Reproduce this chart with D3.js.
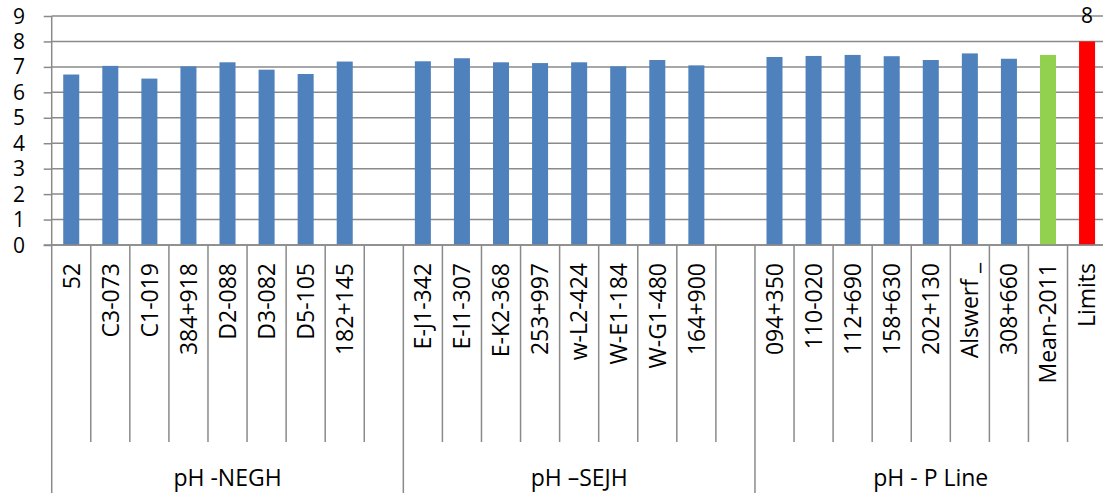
<!DOCTYPE html>
<html>
<head>
<meta charset="utf-8">
<script src="https://cdn.jsdelivr.net/npm/d3@7"></script>
<style>
  html, body { margin: 0; padding: 0; background: #fff; }
  svg { display: block; font-family: "Open Sans", sans-serif; }
</style>
</head>
<body>
<svg id="chart" width="1103" height="495"></svg>
<script>
// Sampling points and pH readings, one array pair per line
const groupNames = ["pH -NEGH", "pH \u2013SEJH", "pH - P Line"];

const neghLabels = ["52", "C3-073", "C1-019", "384+918", "D2-088", "D3-082", "D5-105", "182+145", ""];
const neghValues = [6.70, 7.04, 6.54, 7.02, 7.18, 6.89, 6.72, 7.21, null];

const sejhLabels = ["E-J1-342", "E-I1-307", "E-K2-368", "253+997", "w-L2-424", "W-E1-184", "W-G1-480", "164+900", ""];
const sejhValues = [7.22, 7.34, 7.18, 7.15, 7.18, 7.02, 7.27, 7.06, null];

const pLineLabels = ["094+350", "110-020", "112+690", "158+630", "202+130", "Alswerf _", "308+660", "Mean-2011", "Limits"];
const pLineValues = [7.39, 7.43, 7.47, 7.42, 7.27, 7.53, 7.32, 7.47, 8];

const yTicks = [0, 1, 2, 3, 4, 5, 6, 7, 8, 9];

const colors = { site: "#4F81BD", mean: "#92D050", limit: "#FF0000" };

(function () {
  // Flatten groups into one row of slots
  const groups = [
    { name: groupNames[0], labels: neghLabels, values: neghValues },
    { name: groupNames[1], labels: sejhLabels, values: sejhValues },
    { name: groupNames[2], labels: pLineLabels, values: pLineValues }
  ];
  const slots = [];
  groups.forEach((g, gi) => {
    g.labels.forEach((lab, i) => {
      slots.push({ group: gi, label: lab, value: g.values[i], idx: slots.length });
    });
  });

  const svg = d3.select("#chart");
  const plotLeft = 51.7, plotRight = 1106.6, plotTop = 16, plotBase = 245;

  const x = d3.scaleBand()
    .domain(slots.map(d => d.idx))
    .range([plotLeft, plotRight])
    .paddingInner(0.59)
    .paddingOuter(0.295);
  const step = x.step();

  const y = d3.scaleLinear().domain([0, 9]).range([plotBase, plotTop]);

  const grid = "#8a8a8a";

  // Short ticks to the left of the value axis
  svg.append("g")
    .attr("transform", `translate(${plotLeft},0)`)
    .call(d3.axisLeft(y).tickValues(yTicks).tickSize(8).tickFormat(""))
    .call(g => g.select(".domain").remove())
    .call(g => g.selectAll("line").attr("stroke", grid).attr("stroke-width", 1.5));

  // Horizontal gridlines
  svg.append("g")
    .selectAll("line")
    .data(yTicks)
    .join("line")
    .attr("x1", plotLeft).attr("x2", 1103)
    .attr("y1", d => y(d)).attr("y2", d => y(d))
    .attr("stroke", grid).attr("stroke-width", 1.5);

  // Y tick labels
  svg.append("g")
    .selectAll("text")
    .data(yTicks)
    .join("text")
    .attr("x", 25)
    .attr("y", d => y(d))
    .attr("dy", "0.36em")
    .attr("text-anchor", "end")
    .attr("font-size", 21)
    .attr("fill", "#000")
    .text(d => d);

  // Y axis line
  svg.append("line")
    .attr("x1", plotLeft).attr("x2", plotLeft)
    .attr("y1", plotTop).attr("y2", plotBase)
    .attr("stroke", grid).attr("stroke-width", 1.5);

  // Bars
  const barColor = d => d.label === "Limits" ? colors.limit
    : d.label === "Mean-2011" ? colors.mean : colors.site;

  svg.append("g")
    .selectAll("rect")
    .data(slots.filter(d => d.value != null))
    .join("rect")
    .attr("x", d => x(d.idx))
    .attr("width", x.bandwidth())
    .attr("y", d => y(d.value))
    .attr("height", d => y(0) - y(d.value))
    .attr("fill", barColor);

  // Value label for the limit bar
  const limitSlot = slots.find(d => d.label === "Limits");
  svg.append("text")
    .attr("x", x(limitSlot.idx) + x.bandwidth() / 2)
    .attr("y", y(limitSlot.value) - 18)
    .attr("text-anchor", "middle")
    .attr("font-size", 21)
    .attr("fill", "#000")
    .text(limitSlot.value);

  // Category axis baseline
  svg.append("line")
    .attr("x1", plotLeft - 8).attr("x2", 1103)
    .attr("y1", plotBase).attr("y2", plotBase)
    .attr("stroke", grid).attr("stroke-width", 1.5);

  // Slot dividers: group borders run full depth, inner ones stop above group names
  const bounds = d3.range(slots.length + 1);
  const groupStarts = [0];
  groups.forEach((g, i) => groupStarts.push(groupStarts[i] + g.labels.length));

  svg.append("g")
    .selectAll("line")
    .data(bounds)
    .join("line")
    .attr("x1", i => plotLeft + i * step).attr("x2", i => plotLeft + i * step)
    .attr("y1", plotBase)
    .attr("y2", i => groupStarts.includes(i) ? 493 : 442)
    .attr("stroke", grid).attr("stroke-width", 1.5);

  // Rotated category labels
  svg.append("g")
    .selectAll("text")
    .data(slots)
    .join("text")
    .attr("transform", d => `translate(${x(d.idx) + x.bandwidth() / 2},263) rotate(-90)`)
    .attr("dy", "0.36em")
    .attr("text-anchor", "end")
    .attr("font-size", 23)
    .attr("fill", "#000")
    .text(d => d.label);

  // Group names
  svg.append("g")
    .selectAll("text")
    .data(groups)
    .join("text")
    .attr("x", (g, i) => plotLeft + (groupStarts[i] + g.labels.length / 2) * step)
    .attr("y", 486)
    .attr("text-anchor", "middle")
    .attr("font-size", 23)
    .attr("fill", "#000")
    .text(g => g.name);
})();
</script>
</body>
</html>
